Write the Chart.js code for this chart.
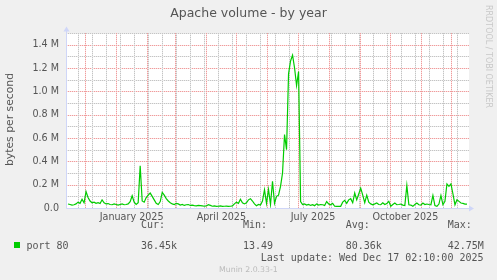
<!DOCTYPE html>
<html>
<head>
<meta charset="utf-8">
<script src="https://cdn.jsdelivr.net/npm/chart.js@4.4.0/dist/chart.umd.min.js"></script>
<style>
    html, body { margin: 0; padding: 0; background: #f0f0f0; }
    canvas { display: block; }
</style>
</head>
<body>
<canvas id="myChart" width="497" height="280" style="width:497px;height:280px"></canvas>
<script>
/* 데이터 : x 는 2025-01-01 기준 일수 */
let startDay = -48;
let stepDays = 2;
// port 80 (kB/s)
let port80 = [
    34, 30, 25, 28, 35, 50, 40, 75, 45, 140,
    90, 60, 45, 50, 40, 45, 38, 70, 45, 35,
    38, 30, 28, 35, 30, 25, 30, 35, 28, 30,
    35, 55, 105, 50, 30, 45, 362, 60, 50, 90,
    110, 128, 100, 70, 40, 30, 55, 134, 110, 80,
    60, 45, 35, 30, 40, 35, 25, 30, 22, 28,
    30, 22, 25, 20, 18, 22, 20, 18, 15, 18,
    28, 22, 15, 18, 14, 15, 18, 14, 15, 16,
    14, 15, 18, 35, 50, 40, 75, 45, 35, 45,
    70, 80, 60, 35, 20, 30, 25, 60, 157, 40,
    160, 30, 228, 40, 100, 110, 185, 300, 630, 500,
    1150, 1260, 1310, 1200, 1050, 1170, 55, 30, 35, 25,
    30, 22, 28, 20, 35, 25, 30, 28, 22, 55,
    35, 28, 40, 15, 14, 15, 14, 50, 65, 40,
    70, 80, 45, 128, 70, 120, 170, 110, 45, 110,
    50, 35, 28, 35, 43, 30, 28, 45, 30, 38,
    57, 15, 30, 43, 28, 30, 34, 25, 22, 194,
    28, 25, 14, 30, 43, 28, 25, 43, 30, 34,
    30, 28, 108, 20, 14, 34, 108, 28, 57, 206,
    185, 206, 120, 28, 71, 57, 43, 40, 34, 34
];

let monthStarts = [-31, 0, 31, 59, 90, 120, 151, 181, 212, 243, 273, 304, 334];
let monthLabels = ['January 2025', 'April 2025', 'July 2025', 'October 2025'];
let monthLabelDays = [15.5, 105, 196.5, 288.5];
let weekFirst = -38;   // 2주 간격 보조선 시작
let weekStep = 14;

let chartTitle = 'Apache volume - by year';
let yTitle = 'bytes per second';
let seriesName = 'port 80';
let statNames = ['Cur:', 'Min:', 'Avg:', 'Max:'];
let statValues = ['36.45k', '13.49', '80.36k', '42.75M'];
let lastUpdate = 'Last update: Wed Dec 17 02:10:00 2025';
let muninVersion = 'Munin 2.0.33-1';
let watermark = 'RRDTOOL / TOBI OETIKER';

// 보조선 색 : [바탕, 점]
let gridGray = ['#ebebeb', '#c4c4c4'];
let gridRed = ['#fbe0e0', '#ef9c9c'];
let axisColor = '#cfd6f8';
let fontColor = '#555555';

/* x 축 라벨 눈금 */
let xTicks = [];
for (let i = 0; i < monthLabels.length; i++) {
    xTicks.push({ value: monthLabelDays[i], name: monthLabels[i] });
}

let points = [];
for (let i = 0; i < port80.length; i++) {
    points.push({ x: startDay + i * stepDays, y: port80[i] * 1000 });
}

/* 점선 : 옅은 선 위에 2px 마다 점 */
function dotsH(ctx, y, x1, x2, color) {
    ctx.fillStyle = color[0];
    ctx.fillRect(x1, y, x2 - x1, 1);
    ctx.fillStyle = color[1];
    for (let x = x1 + 1; x < x2; x += 2) ctx.fillRect(x, y, 1, 1);
}
function dotsV(ctx, x, y1, y2, color) {
    ctx.fillStyle = color[0];
    ctx.fillRect(x, y1, 1, y2 - y1);
    ctx.fillStyle = color[1];
    for (let y = y1; y < y2; y += 2) ctx.fillRect(x, y, 1, 1);
}

let rrdPlugin = {
    id: 'rrd',
    beforeDraw: function (chart) {
        let ctx = chart.ctx;
        let a = chart.chartArea;
        ctx.save();
        ctx.fillStyle = '#f0f0f0';
        ctx.fillRect(0, 0, chart.width, chart.height);
        ctx.fillStyle = '#ffffff';
        ctx.fillRect(a.left, a.top, a.right - a.left, a.bottom - a.top);
        ctx.restore();
    },
    beforeDatasetsDraw: function (chart) {
        let ctx = chart.ctx;
        let a = chart.chartArea;
        let xs = chart.scales.x;
        let ys = chart.scales.y;
        let left = Math.round(a.left), right = Math.round(a.right);
        let top = Math.round(a.top), bottom = Math.round(a.bottom);
        ctx.save();

        // 가로 보조선 (0.1M 회색, 0.2M 빨강)
        for (let n = 1; n <= 15; n++) {
            let y = Math.round(ys.getPixelForValue(n * 100000));
            dotsH(ctx, y, left, right, n % 2 === 0 ? gridRed : gridGray);
        }
        // 세로 보조선 (2주 간격)
        for (let d = weekFirst; d <= xs.max; d += weekStep) {
            let x = Math.round(xs.getPixelForValue(d));
            dotsV(ctx, x, top, bottom, gridGray);
        }
        // 월 시작선
        for (let i = 0; i < monthStarts.length; i++) {
            let x = Math.round(xs.getPixelForValue(monthStarts[i]));
            dotsV(ctx, x, top, bottom, gridRed);
        }
        ctx.restore();
    },
    afterDraw: function (chart) {
        let ctx = chart.ctx;
        let a = chart.chartArea;
        ctx.save();

        // 축 + 화살표
        ctx.strokeStyle = axisColor;
        ctx.fillStyle = axisColor;
        ctx.lineWidth = 1;
        ctx.beginPath();
        ctx.moveTo(a.left - 0.5, a.bottom + 0.5);
        ctx.lineTo(a.right + 1, a.bottom + 0.5);
        ctx.moveTo(a.left - 0.5, a.bottom + 0.5);
        ctx.lineTo(a.left - 0.5, a.top - 2);
        ctx.stroke();
        ctx.beginPath();
        ctx.moveTo(a.right, a.bottom - 2.5);
        ctx.lineTo(a.right + 5, a.bottom + 0.5);
        ctx.lineTo(a.right, a.bottom + 3.5);
        ctx.fill();
        ctx.beginPath();
        ctx.moveTo(a.left - 3.5, a.top - 1.5);
        ctx.lineTo(a.left - 0.5, a.top - 6.5);
        ctx.lineTo(a.left + 2.5, a.top - 1.5);
        ctx.fill();

        // 제목
        ctx.fillStyle = fontColor;
        ctx.font = '12.5px "DejaVu Sans"';
        ctx.textAlign = 'center';
        ctx.textBaseline = 'alphabetic';
        ctx.fillText(chartTitle, 248.5, 17);

        // y 축 제목
        ctx.save();
        ctx.translate(13, 119.5);
        ctx.rotate(-Math.PI / 2);
        ctx.font = '10.8px "DejaVu Sans"';
        ctx.fillText(yTitle, 0, 0);
        ctx.restore();

        // 범례
        ctx.fillStyle = '#00cc00';
        ctx.fillRect(14, 242, 6, 6);
        ctx.fillStyle = fontColor;
        ctx.font = '10px "DejaVu Sans Mono"';
        ctx.textAlign = 'left';
        ctx.fillText(seriesName, 26.5, 249.3);
        let statX = [141, 243, 345.7, 447.7];
        for (let i = 0; i < statNames.length; i++) {
            ctx.fillText(statNames[i], statX[i], 228);
            ctx.fillText(statValues[i], statX[i], 249.3);
        }
        ctx.textAlign = 'right';
        ctx.fillText(lastUpdate, 483.5, 260.7);

        ctx.fillStyle = '#bbbbbb';
        ctx.font = '7.8px "DejaVu Sans"';
        ctx.textAlign = 'center';
        ctx.fillText(muninVersion, 248.4, 271.7);

        ctx.fillStyle = '#c8c8c8';
        ctx.font = '8px "DejaVu Sans"';
        ctx.textAlign = 'left';
        ctx.translate(485.7, 5);
        ctx.rotate(Math.PI / 2);
        ctx.fillText(watermark, 0, 0);

        ctx.restore();
    }
};

let ctx = document.getElementById('myChart').getContext('2d');

let myChart = new Chart(ctx, {
    type: 'line',
    data: {
        datasets: [{
            label: seriesName,
            data: points,
            borderColor: '#00cc00',
            borderWidth: 1.2,
            pointRadius: 0,
            tension: 0,
            fill: false
        }]
    },
    options: {
        responsive: false,
        animation: false,
        devicePixelRatio: 1,
        layout: {
            padding: { left: 0, top: 33, right: 28, bottom: 0 }
        },
        plugins: {
            legend: { display: false },
            title: { display: false },
            tooltip: { enabled: false }
        },
        scales: {
            x: {
                type: 'linear',
                min: -49,
                max: 352,
                afterBuildTicks: function (scale) {
                    scale.ticks = xTicks.map(function (t) {
                        return { value: t.value, name: t.name };
                    });
                },
                afterFit: function (scale) {
                    scale.height = 72;
                },
                ticks: {
                    autoSkip: false,
                    maxRotation: 0,
                    padding: 4,
                    color: fontColor,
                    font: { family: 'DejaVu Sans', size: 9.6 },
                    callback: function (value, index, ticks) {
                        return ticks[index].name;
                    }
                },
                grid: { display: false, drawTicks: false },
                border: { display: false }
            },
            y: {
                min: 0,
                max: 1500000,
                afterFit: function (scale) {
                    scale.width = 67;
                },
                ticks: {
                    stepSize: 100000,
                    autoSkip: false,
                    padding: 8,
                    color: fontColor,
                    font: { family: 'DejaVu Sans', size: 9.6 },
                    callback: function (value) {
                        let n = Math.round(value / 100000);
                        if (n % 2 !== 0) return '';
                        if (n === 0) return '0.0';
                        return (n / 10).toFixed(1) + ' M';
                    }
                },
                grid: { display: false, drawTicks: false },
                border: { display: false }
            }
        }
    },
    plugins: [rrdPlugin]
});
</script>
</body>
</html>
